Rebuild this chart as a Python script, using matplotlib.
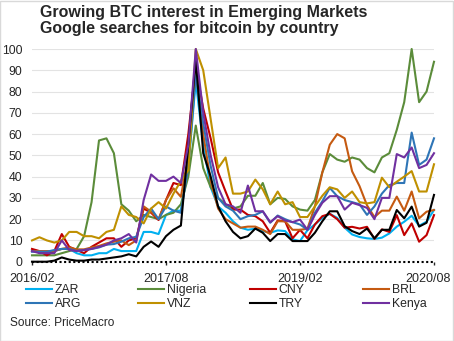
import matplotlib
matplotlib.use('Agg')
import matplotlib.pyplot as plt
from matplotlib.patches import Rectangle
from matplotlib.transforms import ScaledTranslation

plt.rcParams['font.family'] = ['Liberation Sans', 'DejaVu Sans']

# monthly Google Trends index, 2016/02 .. 2020/08 (55 months)
months = list(range(55))
tick_pos = [0, 18, 36, 54]
tick_labels = ['2016/02', '2017/08', '2019/02', '2020/08']

zar = [5, 5, 4, 5, 6, 6, 4, 3, 3, 4, 4, 6, 5, 5, 5, 14, 14, 13, 22, 24, 24, 45, 85,
       55, 35, 26, 23, 19, 16, 15, 15.5, 14.4, 13.6, 14.7, 14.4, 10.5, 9.7, 14.8, 17.5,
       20.6, 22.5, 20.6, 16, 12.8, 11.6, 11, 10.7, 11.3, 13.3, 16.5, 18.8, 21.6, 16.9, 18.8, 24.3]
nigeria = [3, 3, 3, 3, 4, 5, 6, 12, 28, 57, 58, 51, 27, 24, 19, 22, 21, 20, 22, 23, 27, 40, 64,
           44, 35, 30, 27, 25, 26, 31, 31, 37, 27, 30, 29.5, 26, 24.5, 24, 29,
           42, 50.6, 48, 47, 49, 48, 44, 42, 49, 51, 62, 75, 100, 75, 80, 94]
cny = [6, 5, 3, 5, 13, 7, 5.5, 4, 7, 9, 11, 11, 7, 10, 11, 25, 23, 19.6, 29, 37, 36, 60, 92,
       72, 58, 42, 33, 24.5, 24.5, 22, 21.4, 19, 13.6, 19.4, 19, 11, 15, 11, 17.5,
       21.4, 22.5, 20, 16, 16.4, 15.6, 16.4, 10.7, 15.2, 14, 21.9, 12.5, 18, 9.4, 12.5, 21.9]
brl = [5, 5, 5, 5, 6, 6.7, 5.8, 5.8, 6.7, 7.4, 8.6, 9.4, 10, 7.8, 10, 26, 23.5, 20, 29, 34.5, 30.5, 50, 90,
       60, 38, 25, 20, 18, 16, 16.5, 16.5, 15, 13, 19, 19, 15, 15, 15.5, 26,
       42, 55, 60, 58, 42.5, 35.5, 26.5, 21, 24, 24, 30.6, 24, 33, 20.4, 23.5, 24.3]
arg = [4.7, 4.7, 4.7, 5.5, 6, 6, 5, 5.5, 6, 6.7, 8, 8.3, 9.4, 11, 11.7, 21, 25, 20, 26, 24, 23, 45, 88,
       65, 45, 30, 26, 24, 20, 21.4, 22, 23.7, 18.3, 21.7, 20, 18.6, 17.5, 15, 23,
       28.4, 34.7, 30.8, 29, 28, 27, 22, 26, 32, 36, 37, 37, 60.7, 45.5, 48, 58]
vnz = [10, 11.5, 10, 9, 10, 14, 14, 12, 12, 11, 14, 15, 26, 22, 21, 18, 25, 28, 25, 32, 38, 43, 100,
       90, 67, 44, 49, 32, 32, 33, 38.6, 34, 27, 33, 27, 28, 21, 21, 26,
       31, 35, 34, 30, 33, 28, 27.4, 28, 39.5, 35, 37.6, 40, 42.6, 33, 33, 45.8]
try_ = [0, 0, 0, 0.5, 2, 1, 0.5, 0.5, 1, 1, 1.5, 2, 2.5, 3.5, 2.5, 7, 9.5, 7, 12, 15, 17, 55, 95,
        51, 40, 26, 19, 14, 11, 12, 15.6, 13.6, 9.7, 13, 13, 9.7, 9.7, 9.7, 13.6,
        19, 23.7, 23.7, 16.7, 14.4, 13, 15.6, 11, 15, 15, 24.3, 20.4, 25.9, 16.5, 18.3, 31.4]
kenya = [5, 4, 4, 4, 10, 5.5, 5, 5.5, 6, 7, 8, 10, 11, 13, 9, 29, 41, 38, 38, 40, 37, 55, 100,
         70, 50, 35, 27, 26, 23, 35.8, 23.7, 23.7, 18.6, 21.4, 19.4, 18.6, 19.8, 15, 22,
         27.7, 30.8, 30.8, 24.5, 27.7, 26.6, 25.3, 20, 30, 30, 50.6, 49, 53.7, 44, 45.5, 51]

series = [
    ('ZAR', zar, '#00B0F0'),
    ('Nigeria', nigeria, '#5B8C3A'),
    ('CNY', cny, '#C00000'),
    ('BRL', brl, '#C55A11'),
    ('ARG', arg, '#2E75B6'),
    ('VNZ', vnz, '#BF9000'),
    ('TRY', try_, '#000000'),
    ('Kenya', kenya, '#7030A0'),
]

fig = plt.figure(figsize=(4.54, 3.41), dpi=100)
ax = fig.add_axes([32 / 454, 79.3 / 341, 402 / 454, 212.7 / 341])

handles = {}
for name, vals, col in series:
    line, = ax.plot(months, vals, color=col, lw=1.5, label=name, clip_on=False)
    handles[name] = line

ax.set_xlim(0, 54)
ax.set_ylim(0, 100)
ax.set_yticks(range(0, 101, 10))
ax.yaxis.grid(True, color='#E3E3E3', lw=0.8)
ax.set_axisbelow(True)
for s in ax.spines.values():
    s.set_visible(False)
ax.axhline(0, color='black', lw=1.5, ls=(0, (1, 1.2)), clip_on=False, zorder=5)

ax.set_xticks(tick_pos)
ax.set_xticklabels(tick_labels)
ax.tick_params(axis='x', length=2, width=1, pad=6, labelsize=9, colors='#262626')
ax.tick_params(axis='y', length=0, pad=7, labelsize=8.8, colors='#262626')
# nudge the last date label so it stays inside the figure
last = ax.get_xticklabels()[-1]
last.set_transform(last.get_transform() + ScaledTranslation(-4 / 72, 0, fig.dpi_scale_trans))

fig.text(40 / 454, 1 - 5 / 341,
         'Growing BTC interest in Emerging Markets\nGoogle searches for bitcoin by country',
         ha='left', va='top', fontsize=11.5, fontweight='bold', color='#262626', linespacing=1.05)

# legend: four columns of two rows each
cols_x = [26, 138, 250, 363]
rows = [['ZAR', 'ARG'], ['Nigeria', 'VNZ'], ['CNY', 'TRY'], ['BRL', 'Kenya']]
for x, names in zip(cols_x, rows):
    lg = fig.legend([handles[n] for n in names], names, loc='upper left',
                    bbox_to_anchor=(x / 454, 1 - 284 / 341), frameon=False,
                    fontsize=8.8, handlelength=2.1, handletextpad=0.25,
                    labelspacing=0.2, borderpad=0, borderaxespad=0)
    for t in lg.get_texts():
        t.set_color('#262626')

fig.text(10 / 454, 1 - 323 / 341, 'Source: PriceMacro', ha='left', va='center',
         fontsize=8.6, color='#262626')

fig.add_artist(Rectangle((0.001, 0.001), 0.997, 0.997, transform=fig.transFigure,
                         fill=False, edgecolor='#D9D9D9', lw=1))

fig.savefig('out.png', dpi=100)
